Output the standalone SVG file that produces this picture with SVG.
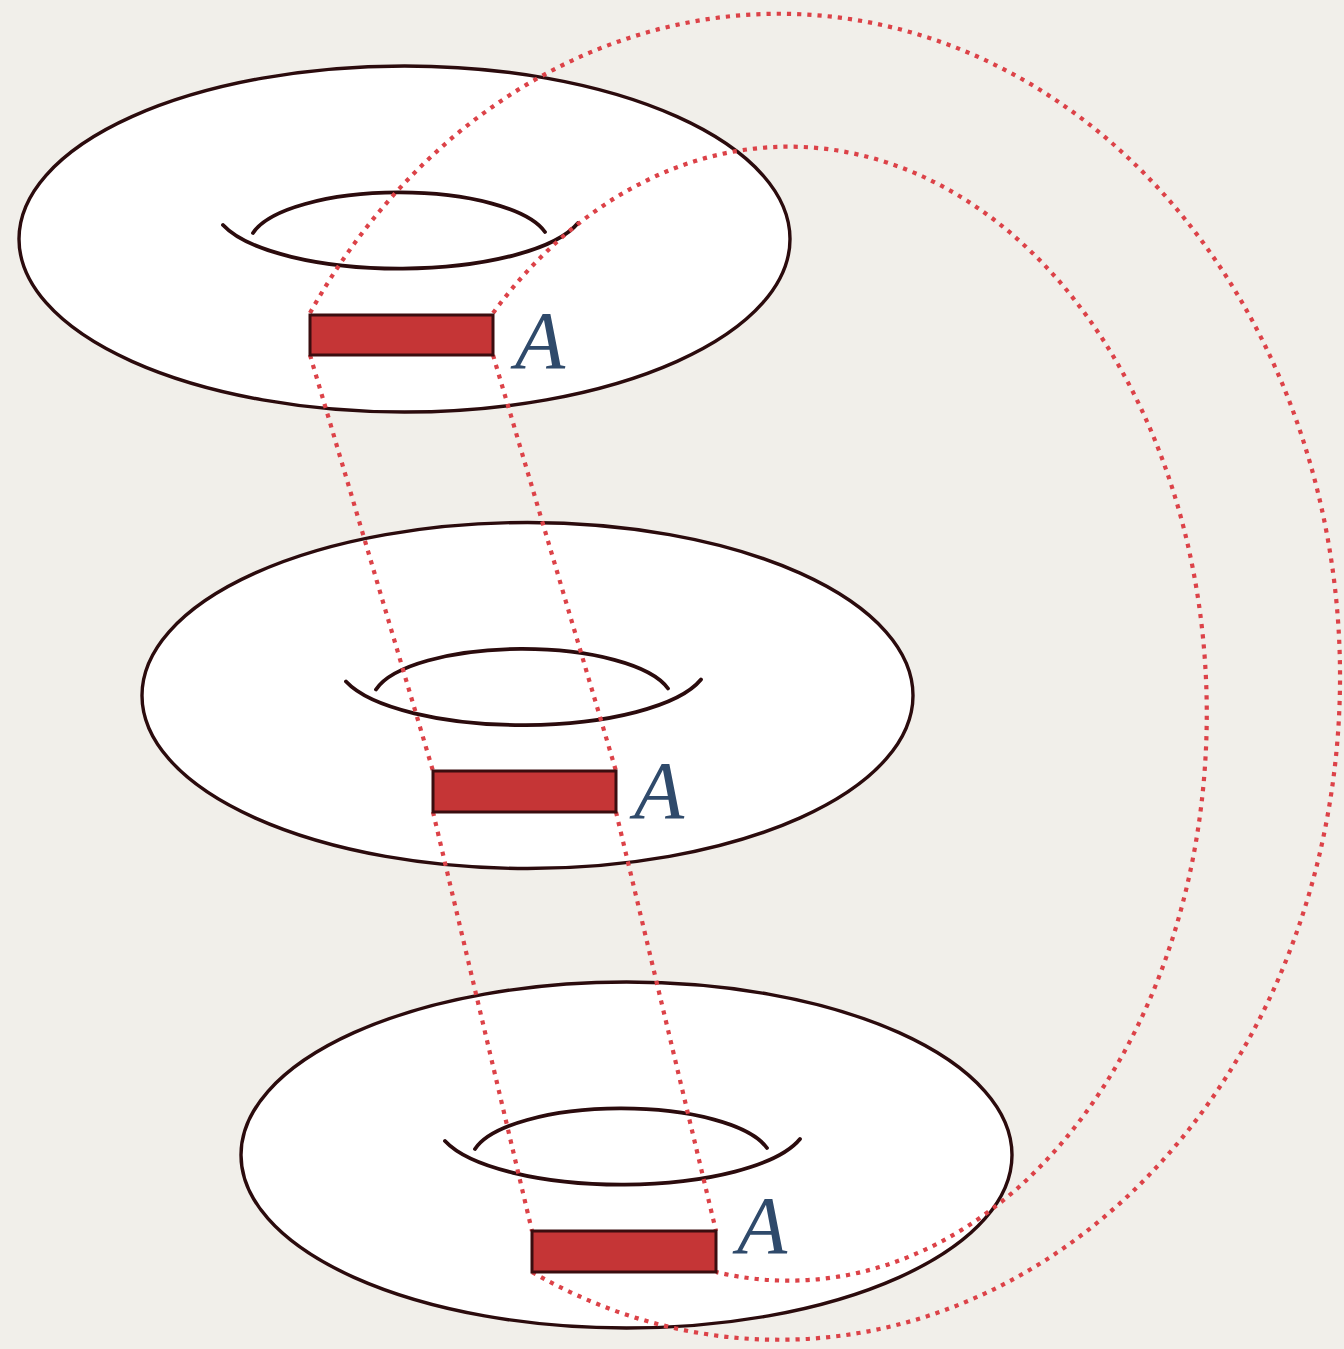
<svg xmlns="http://www.w3.org/2000/svg" width="1344" height="1349" viewBox="0 0 1344 1349">
  <style>
    .bg { fill: #f1efea; }
    .torus { fill: #ffffff; stroke: #2b0b0d; stroke-width: 3.4; }
    .hole { fill: none; stroke: #2b0b0d; stroke-width: 3.8; stroke-linecap: round; }
    .rect { fill: #c53536; stroke: #3a0d0f; stroke-width: 3; }
    .lbl { font-family: "Liberation Serif", "DejaVu Serif", serif; font-style: italic; font-size: 82px; fill: #2f4a6b; }
    .dot { fill: none; stroke: #dc4248; stroke-width: 4.2; stroke-dasharray: 4.2 6; }
  </style>
  <rect class="bg" x="0" y="0" width="1344" height="1349"/>

  <g id="torus1">
    <ellipse class="torus" cx="404.5" cy="239" rx="385.5" ry="173"/>
    <path class="hole" d="M223,225 A185,62 0 0 0 578,223"/>
    <path class="hole" d="M253,233 A150,52 0 0 1 545,232"/>
  </g>
  <g id="torus2" transform="translate(123,456.5)">
    <ellipse class="torus" cx="404.5" cy="239" rx="385.5" ry="173"/>
    <path class="hole" d="M223,225 A185,62 0 0 0 578,223"/>
    <path class="hole" d="M253,233 A150,52 0 0 1 545,232"/>
  </g>
  <g id="torus3" transform="translate(222,916)">
    <ellipse class="torus" cx="404.5" cy="239" rx="385.5" ry="173"/>
    <path class="hole" d="M223,225 A185,62 0 0 0 578,223"/>
    <path class="hole" d="M253,233 A150,52 0 0 1 545,232"/>
  </g>

  <g id="connectors">
    <path class="dot" d="M310,313 A561,663 0 1 1 532,1272"/>
    <path class="dot" d="M493,313 A418,567 0 1 1 716,1272"/>
    <path class="dot" d="M310,355 L433,771"/>
    <path class="dot" d="M493,355 L616,771"/>
    <path class="dot" d="M433,812 L532,1231"/>
    <path class="dot" d="M616,812 L716,1231"/>
  </g>

  <g id="region1">
    <rect class="rect" x="310" y="315" width="183" height="40"/>
    <text class="lbl" x="515" y="368">A</text>
  </g>
  <g id="region2">
    <rect class="rect" x="433" y="771" width="183" height="41"/>
    <text class="lbl" x="634" y="818">A</text>
  </g>
  <g id="region3">
    <rect class="rect" x="532" y="1231" width="184" height="41"/>
    <text class="lbl" x="737" y="1253">A</text>
  </g>
</svg>
